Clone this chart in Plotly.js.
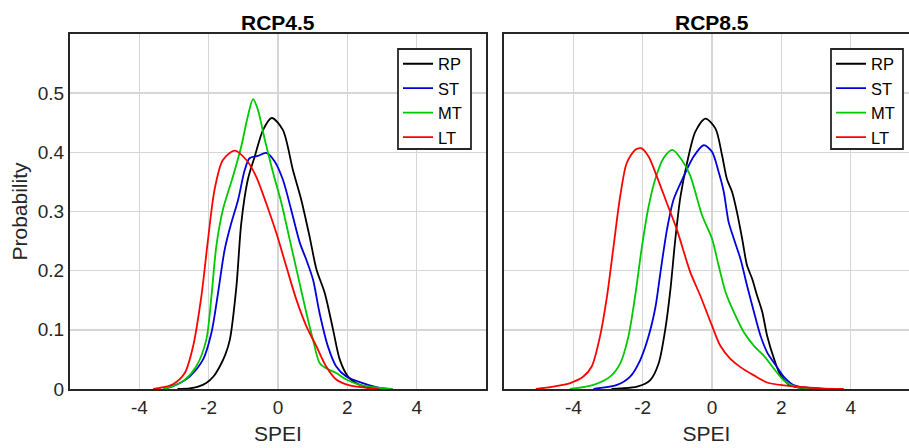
<!DOCTYPE html>
<html>
<head>
<meta charset="utf-8">
<script src="https://cdn.plot.ly/plotly-3.0.1.min.js"></script>
<style>html,body{margin:0;padding:0;background:#fff;}#chart{width:909px;height:448px;}</style>
</head>
<body>
<div id="chart"></div>
<script>
// ---- data ----
const seriesNames = ["RP", "ST", "MT", "LT"];
const seriesColors = ["#000000", "#0000dd", "#00c800", "#ff0000"];
const panelTitles = ["RCP4.5", "RCP8.5"];
const xTickVals = [-4, -2, 0, 2, 4];
const xTickText = ["-4", "-2", "0", "2", "4"];
const yTickVals = [0, 0.1, 0.2, 0.3, 0.4, 0.5];
const yTickText = ["0", "0.1", "0.2", "0.3", "0.4", "0.5"];

// RCP4.5
const rcp45_RP_x = [-2.9, -2.55, -2.3, -2.07, -1.85, -1.68, -1.52, -1.39, -1.2, -1.06, -0.87, -0.67, -0.43, -0.18, 0.14, 0.43, 0.67, 0.91, 1.11, 1.35, 1.59, 1.78, 2.02, 2.36, 2.9];
const rcp45_RP_y = [0, 0.001, 0.004, 0.01, 0.022, 0.038, 0.058, 0.083, 0.173, 0.28, 0.354, 0.393, 0.438, 0.458, 0.438, 0.37, 0.32, 0.258, 0.202, 0.162, 0.1, 0.05, 0.021, 0.007, 0];
const rcp45_ST_x = [-3.3, -3.03, -2.8, -2.55, -2.16, -1.92, -1.73, -1.54, -1.35, -1.15, -0.96, -0.82, -0.58, -0.34, -0.1, 0.14, 0.38, 0.63, 0.82, 1.01, 1.2, 1.44, 1.68, 1.97, 2.45, 2.93, 3.3];
const rcp45_ST_y = [0, 0.005, 0.011, 0.021, 0.05, 0.095, 0.162, 0.235, 0.28, 0.32, 0.37, 0.39, 0.394, 0.399, 0.385, 0.354, 0.303, 0.247, 0.218, 0.185, 0.128, 0.072, 0.038, 0.021, 0.01, 0.002, 0];
const rcp45_MT_x = [-3.3, -3.03, -2.7, -2.36, -2.07, -1.92, -1.78, -1.59, -1.3, -1.06, -0.87, -0.72, -0.58, -0.38, -0.14, 0.1, 0.34, 0.58, 0.82, 1.01, 1.2, 1.39, 1.68, 1.97, 2.36, 2.93, 3.3];
const rcp45_MT_y = [0, 0.005, 0.015, 0.038, 0.083, 0.157, 0.241, 0.303, 0.359, 0.41, 0.461, 0.49, 0.472, 0.421, 0.365, 0.314, 0.252, 0.19, 0.128, 0.083, 0.044, 0.035, 0.027, 0.016, 0.007, 0.002, 0];
const rcp45_LT_x = [-3.6, -3.3, -3.03, -2.69, -2.45, -2.21, -2.02, -1.83, -1.59, -1.25, -0.91, -0.63, -0.34, -0.05, 0.24, 0.53, 0.82, 1.11, 1.39, 1.68, 2.07, 2.55, 2.9];
const rcp45_LT_y = [0, 0.003, 0.008, 0.027, 0.072, 0.157, 0.252, 0.337, 0.387, 0.403, 0.387, 0.359, 0.314, 0.264, 0.207, 0.151, 0.106, 0.072, 0.038, 0.016, 0.006, 0.002, 0];

// RCP8.5
const rcp85_RP_x = [-2.9, -2.64, -2.16, -1.78, -1.54, -1.35, -1.2, -1.06, -0.91, -0.72, -0.48, -0.19, 0.1, 0.29, 0.43, 0.58, 0.72, 0.87, 1.01, 1.16, 1.3, 1.45, 1.59, 1.79, 1.98, 2.27, 2.9];
const rcp85_RP_y = [0, 0.001, 0.004, 0.015, 0.043, 0.1, 0.168, 0.252, 0.325, 0.382, 0.435, 0.457, 0.44, 0.395, 0.355, 0.333, 0.299, 0.254, 0.209, 0.186, 0.158, 0.13, 0.09, 0.051, 0.023, 0.006, 0];
const rcp85_ST_x = [-3.42, -3.32, -2.74, -2.36, -2.07, -1.83, -1.63, -1.49, -1.3, -1.11, -0.82, -0.53, -0.24, 0, 0.19, 0.34, 0.48, 0.63, 0.82, 1.01, 1.21, 1.4, 1.59, 1.84, 2.08, 2.37, 3.3];
const rcp85_ST_y = [0, 0.001, 0.007, 0.021, 0.049, 0.089, 0.139, 0.196, 0.269, 0.32, 0.359, 0.393, 0.412, 0.401, 0.367, 0.333, 0.282, 0.254, 0.22, 0.175, 0.13, 0.09, 0.062, 0.04, 0.02, 0.006, 0];
const rcp85_MT_x = [-4.1, -3.42, -2.94, -2.65, -2.41, -2.22, -2.02, -1.83, -1.64, -1.4, -1.14, -0.87, -0.63, -0.29, 0, 0.19, 0.39, 0.63, 0.92, 1.21, 1.5, 1.79, 2.08, 2.46, 2.94, 3.3];
const rcp85_MT_y = [0, 0.007, 0.021, 0.043, 0.089, 0.156, 0.241, 0.308, 0.354, 0.39, 0.404, 0.387, 0.361, 0.294, 0.254, 0.209, 0.164, 0.13, 0.096, 0.073, 0.056, 0.034, 0.014, 0.003, 0.001, 0];
const rcp85_LT_x = [-5.08, -4.58, -4.09, -3.71, -3.47, -3.23, -3.03, -2.84, -2.65, -2.46, -2.22, -2.05, -1.83, -1.59, -1.3, -1.01, -0.63, -0.34, 0, 0.24, 0.53, 0.82, 1.21, 1.59, 2.08, 2.65, 3.13, 3.8];
const rcp85_LT_y = [0, 0.004, 0.01, 0.021, 0.038, 0.089, 0.156, 0.241, 0.325, 0.382, 0.404, 0.407, 0.393, 0.359, 0.314, 0.269, 0.198, 0.158, 0.107, 0.073, 0.051, 0.037, 0.023, 0.011, 0.006, 0.003, 0.001, 0];

const panels = [
  {xs: [rcp45_RP_x, rcp45_ST_x, rcp45_MT_x, rcp45_LT_x], ys: [rcp45_RP_y, rcp45_ST_y, rcp45_MT_y, rcp45_LT_y]},
  {xs: [rcp85_RP_x, rcp85_ST_x, rcp85_MT_x, rcp85_LT_x], ys: [rcp85_RP_y, rcp85_ST_y, rcp85_MT_y, rcp85_LT_y]}
];

const traces = [];
panels.forEach((p, pi) => {
  seriesNames.forEach((name, si) => {
    traces.push({
      x: p.xs[si], y: p.ys[si], name: name, type: 'scatter', mode: 'lines',
      line: {color: seriesColors[si], width: 1.8, shape: 'spline', smoothing: 0.8},
      xaxis: pi === 0 ? 'x' : 'x2', yaxis: pi === 0 ? 'y' : 'y2',
      legend: pi === 0 ? 'legend' : 'legend2', showlegend: true
    });
  });
});

const FONT = 'Liberation Sans, Arial, Helvetica, sans-serif';
const axisColor = '#262626';
const gridColor = '#d6d6d6';

const L = 70, R = 0, T = 34, B = 59, W = 909, H = 448;
const plotW = W - L - R, plotH = H - T - B;
const leftEnd = 486, rightStart = 504;
const px2x = px => (px - L) / plotW;
const px2y = py => (H - B - py) / plotH;

const commonX = {
  tickvals: xTickVals, ticktext: xTickText, ticks: '', showgrid: true, gridcolor: gridColor, gridwidth: 1.5,
  zeroline: false, showline: true, linecolor: axisColor, linewidth: 2, mirror: true,
  tickfont: {family: FONT, size: 19, color: axisColor},
  title: {text: 'SPEI', font: {family: FONT, size: 21, color: axisColor}, standoff: 10},
  fixedrange: true
};
const commonY = {
  range: [0, 0.6], tickvals: yTickVals, ticktext: yTickText, ticks: '', showgrid: true, gridcolor: gridColor, gridwidth: 1.5,
  zeroline: false, showline: true, linecolor: axisColor, linewidth: 2,
  tickfont: {family: FONT, size: 19, color: axisColor}, fixedrange: true
};

const legendCommon = {
  bgcolor: 'rgba(0,0,0,0)', borderwidth: 0,
  font: {family: FONT, size: 16.5, color: '#000'}, xanchor: 'left', yanchor: 'top',
  tracegroupgap: 0, itemwidth: 30
};

const legendBoxes = [[398, 49, 471, 149], [831, 49, 903, 149]];

const layout = {
  width: W, height: H, margin: {l: L, r: R, t: T, b: B},
  paper_bgcolor: '#fff', plot_bgcolor: '#fff', showlegend: true,
  font: {family: FONT, color: axisColor},
  xaxis: Object.assign({}, commonX, {domain: [0, px2x(leftEnd)], range: [-6, 6], anchor: 'y'}),
  xaxis2: Object.assign({}, commonX, {domain: [px2x(rightStart), 1],
           range: [-6, -6 + (W - rightStart) / ((leftEnd - L) / 12)], anchor: 'y2'}),
  yaxis: Object.assign({}, commonY, {anchor: 'x', mirror: true,
           title: {text: 'Probability', font: {family: FONT, size: 21, color: axisColor}, standoff: 4}}),
  yaxis2: Object.assign({}, commonY, {anchor: 'x2', showticklabels: false, mirror: false}),
  legend: Object.assign({}, legendCommon, {x: px2x(398), y: px2y(46.5)}),
  legend2: Object.assign({}, legendCommon, {x: px2x(831), y: px2y(46.5)}),
  shapes: legendBoxes.map(b => ({
    type: 'rect', xref: 'paper', yref: 'paper', layer: 'above',
    x0: px2x(b[0]), x1: px2x(b[2]), y0: px2y(b[3]), y1: px2y(b[1]),
    fillcolor: '#ffffff', line: {color: axisColor, width: 1.8}
  })),
  annotations: panelTitles.map((t, i) => ({
    text: '<b>' + t + '</b>', xref: 'paper', yref: 'paper',
    x: i === 0 ? px2x(278) : px2x(712), y: 1, yanchor: 'bottom', xanchor: 'center', yshift: -2,
    showarrow: false, font: {family: FONT, size: 21, color: '#000'}
  }))
};

Plotly.newPlot('chart', traces, layout, {staticPlot: true, displayModeBar: false});
</script>
</body>
</html>
